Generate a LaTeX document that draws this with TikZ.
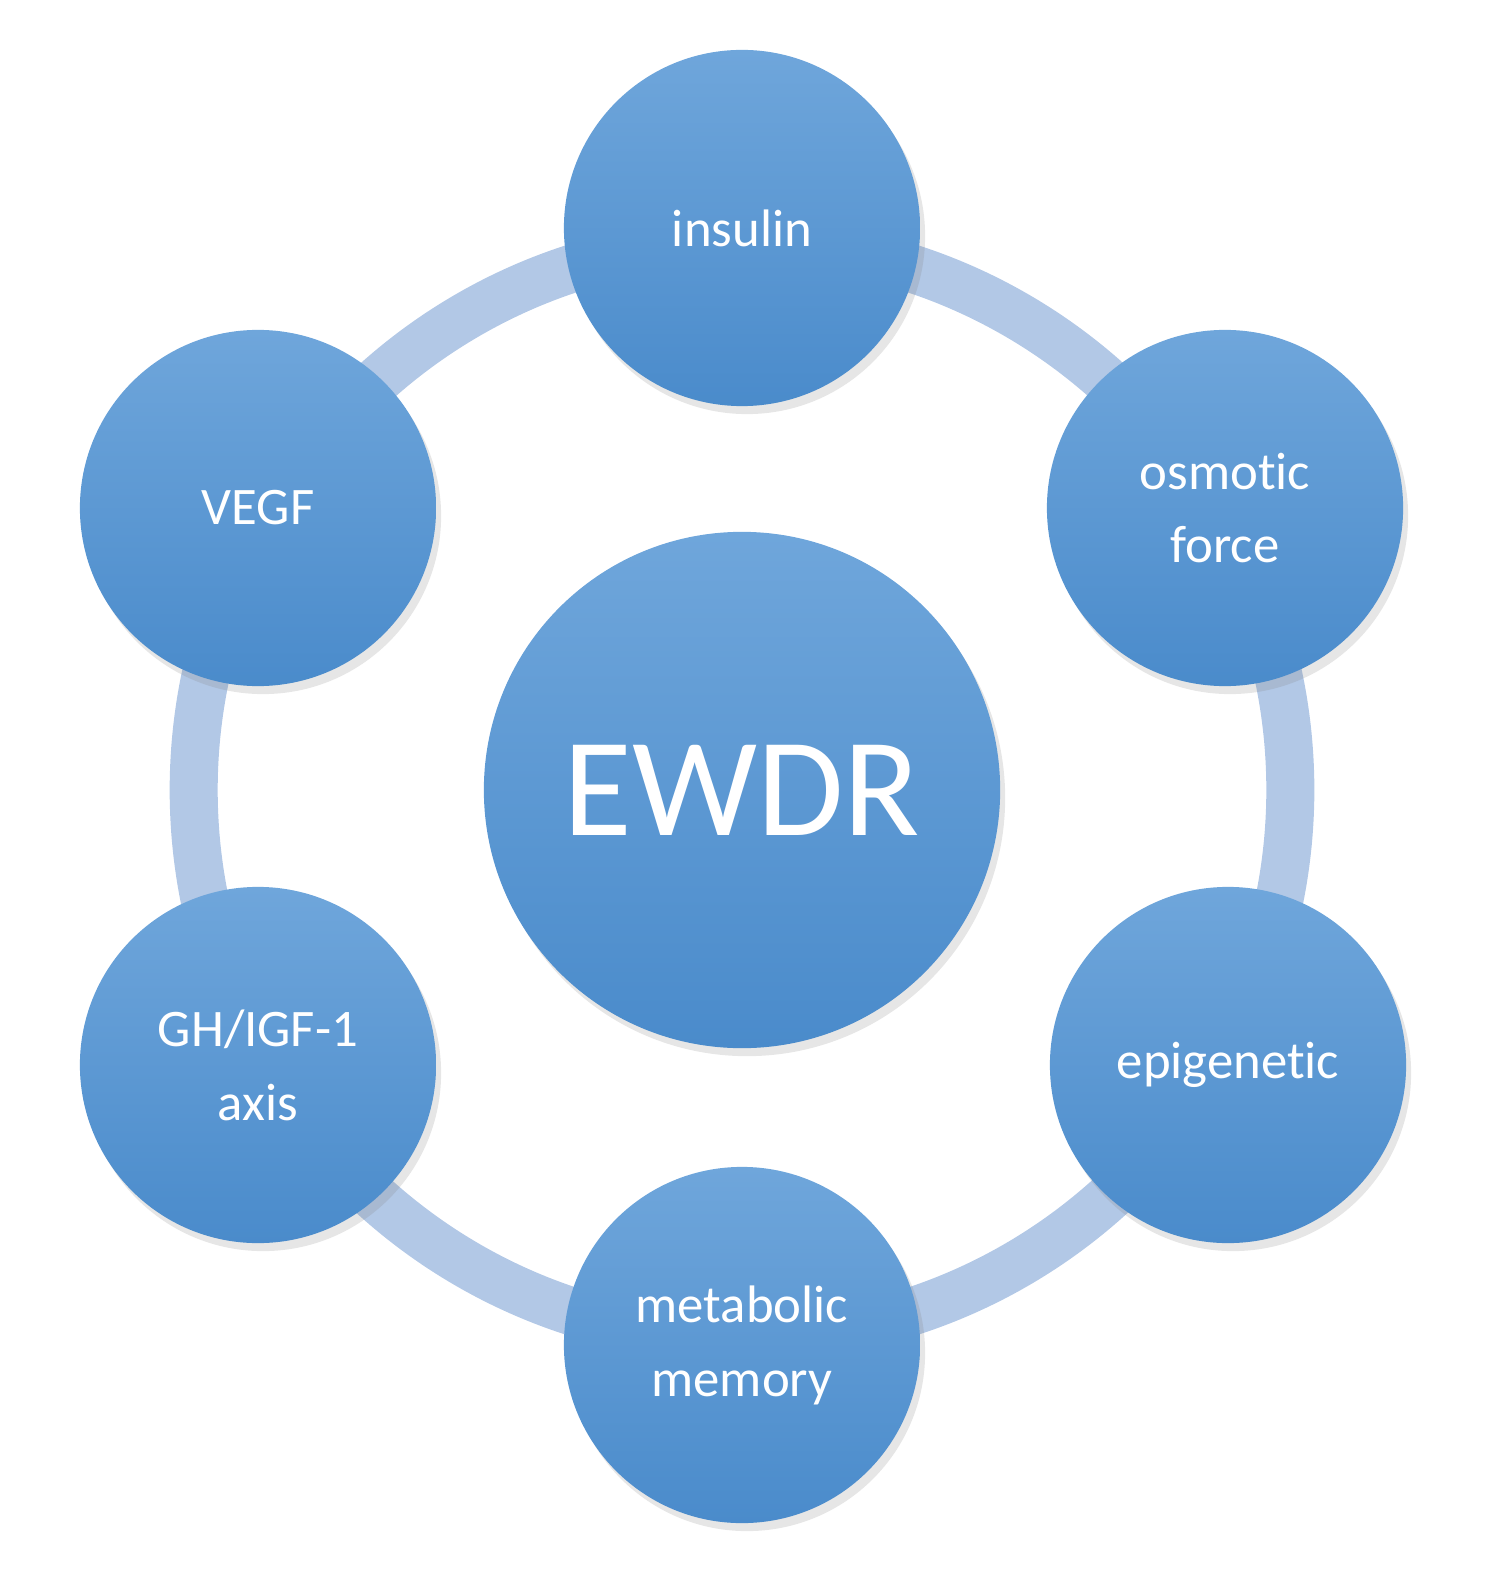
\documentclass[tikz,border=0pt]{standalone}
\usepackage{fontspec}
\setmainfont{Carlito}[Ligatures={NoCommon}]
\usetikzlibrary{shadows}
\definecolor{ctop}{HTML}{6FA6DB}
\definecolor{cbot}{HTML}{4A8BCB}
\definecolor{ring}{HTML}{B2C8E6}
\begin{document}
\begin{tikzpicture}[x=0.01cm,y=-0.01cm,
  blob/.style={circle,minimum size=3.56cm, inner sep=0pt, top color=ctop, bottom color=cbot,
    draw=none, text=white, font=\fontsize{15}{21}\selectfont, align=center,
    drop shadow={shadow xshift=0.5mm,shadow yshift=-0.8mm,opacity=0.2}},
  big/.style={blob, minimum size=5.16cm, font=\fontsize{40}{44}\selectfont}]
\useasboundingbox (0,0) rectangle (1488,1592);
\coordinate (c) at (742,790);
\draw[ring, line width=4.8mm] (c) circle[radius=5.48cm];
\node[big] (ewdr) at (742,790) {EWDR};
\node[blob] (ins) at (742,228) {insulin};
\node[blob] (osm) at (1225,508) {osmotic\\force};
\node[blob] (epi) at (1228,1065) {epigenetic};
\node[blob] (met) at (742,1345) {metabolic\\memory};
\node[blob] (gh) at (258,1065) {GH/IGF-1\\axis};
\node[blob] (vegf) at (258,508) {VEGF};
\end{tikzpicture}
\end{document}
